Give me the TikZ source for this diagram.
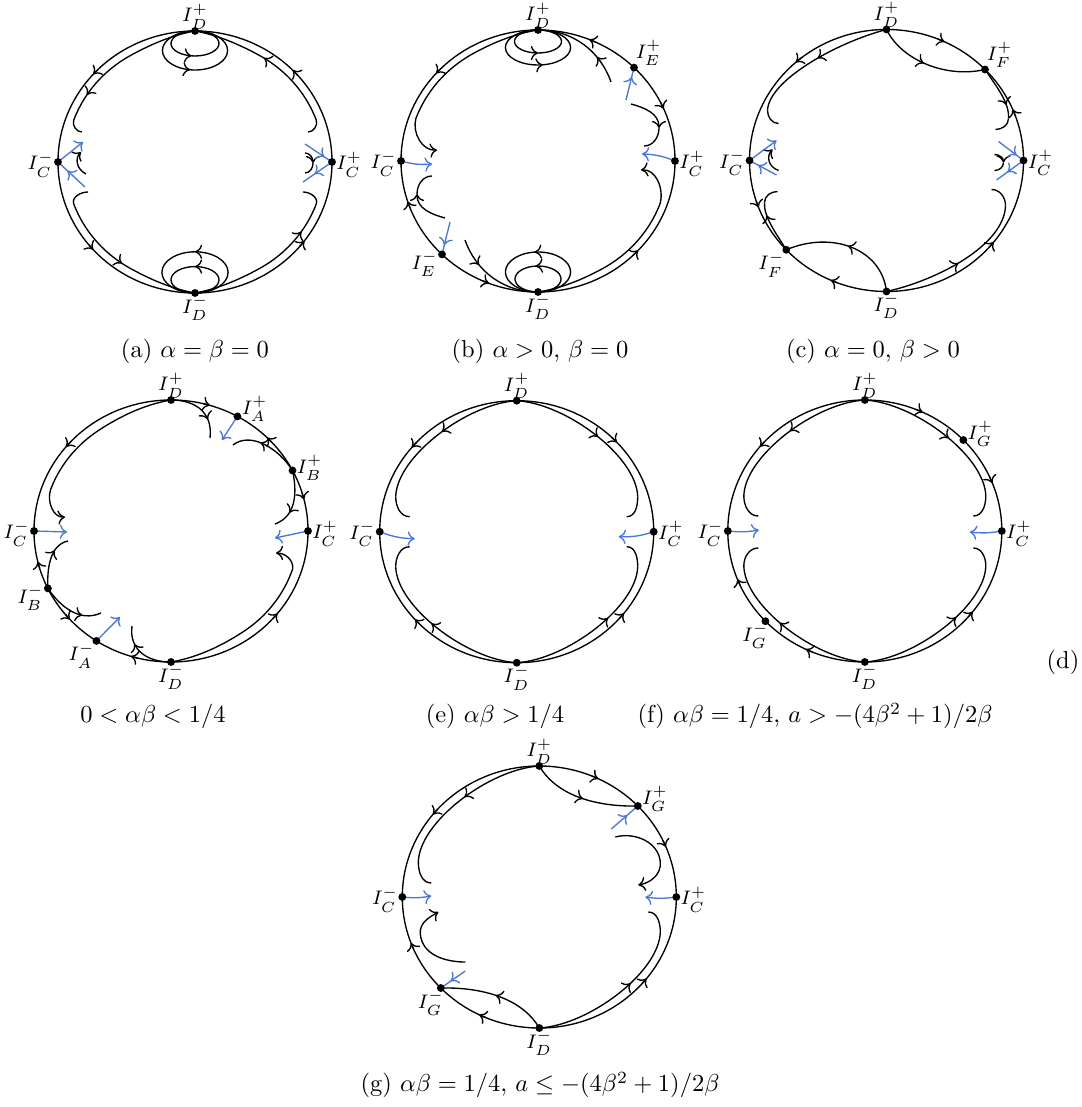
\documentclass[tikz,border=0pt]{standalone}
\usetikzlibrary{arrows.meta,decorations.markings}
\definecolor{sepblue}{RGB}{75,120,215}
\tikzset{
 ma/.style={postaction={decorate,decoration={markings,mark=at position #1 with {\arrow{>}}}}},
 mr/.style={postaction={decorate,decoration={markings,mark=at position #1 with {\arrow{<}}}}},
 bl/.style={color=sepblue},
 lab/.style={font=\footnotesize,inner sep=0.5pt},
 capt/.style={font=\normalsize,inner sep=0pt},
}
\newcommand\carr[2]{\draw[->] ({137*cos(#1)},{-131*sin(#1)}) -- ({137*cos((#1+#2)/2)},{-131*sin((#1+#2)/2)});}
\newcommand\ip[5]{plot[domain=#1:#2,samples=40] ({(137-gp(\x,#3,#4,#5))*cos(\x)},{-(131-gp(\x,#3,#4,#5))*sin(\x)})}
\newcommand\bnd{\draw (0,0) ellipse[x radius=55.9pt,y radius=53.45pt];}
\newcommand\dotp[1]{\fill (#1) circle[radius=1.6pt];}
\begin{document}
\begin{tikzpicture}[x=0.408pt,y=-0.408pt,line width=0.55pt,>={To[length=2.9pt,width=5.8pt]},
 declare function={gp(\pa,\pb,\pc,\pd)=\pd*sin(min(90,90*abs(\pa-\pb)/\pc));}]
\useasboundingbox (0,0) rectangle (1081,1107);

% ---------------- (a)
\begin{scope}[shift={(195,162)}]
\coordinate (aT) at (0,-131); \coordinate (aB) at (0,131);
\coordinate (aL) at (-137,0); \coordinate (aR) at (137,0);
\bnd
\carr{135}{141}\carr{41.5}{47.5}\carr{219}{225}\carr{320}{326}
\draw[ma=0.72] (0,-118.5) ellipse[x radius=9.8pt,y radius=5.1pt];
\draw[ma=0.72] (0,-111.5) ellipse[x radius=13.3pt,y radius=7.96pt];
\draw[ma=0.25] (0,117.8) ellipse[x radius=9.8pt,y radius=5.39pt];
\draw[ma=0.25] (0,110.4) ellipse[x radius=13.5pt,y radius=8.4pt];
\draw[ma=0.82] \ip{90}{160}{90}{30}{8} coordinate (aH1);
\draw (aH1) to[out=250,in=180] (-113,-30);
\draw[mr=0.52] \ip{90}{20}{90}{30}{8} coordinate (aH2);
\draw (aH2) to[out=290,in=0] (113,-30);
\draw[mr=0.55] \ip{270}{200}{270}{30}{8} coordinate (aH3);
\draw (aH3) to[out=110,in=180] (-107,30);
\draw[ma=0.8] \ip{270}{340}{270}{30}{8} coordinate (aH4);
\draw (aH4) to[out=70,in=0] (108,30);
\draw[->] (-109,12) .. controls (-119,7) and (-120,-4) .. (-114,-10);
\draw[->] (110,-9) to[out=0,in=90] (118,1);
\draw (118,1) to[out=270,in=0] (110,11);
\draw[bl,->] (aL) -- (-112,-20);
\draw[bl,mr=0.55] (aL) -- (-110,25);
\draw[bl,mr=0.5] (aR) -- (110,-18);
\draw[bl,ma=0.6] (aR) -- (108,20);
\dotp{aT}\dotp{aB}\dotp{aL}\dotp{aR}
\node[lab,above=0pt] (laT) at (aT) {$I_D^+$};
\node[lab,below=0pt] (laB) at (aB) {$I_D^-$};
\node[lab,left=1pt,yshift=-1pt] (laL) at (aL) {$I_C^-$};
\node[lab,right=1pt,yshift=-1pt] (laR) at (aR) {$I_C^+$};
\end{scope}

% ---------------- (b)
\begin{scope}[shift={(538,161)}]
\coordinate (bT) at (0,-131); \coordinate (bB) at (0,131);
\coordinate (bL) at (-137,0); \coordinate (bR) at (137,0);
\coordinate (bEp) at (96,-93.4); \coordinate (bEm) at (-96,93.4);
\bnd
\carr{135}{141}\carr{65}{71}\carr{26.5}{20.5}\carr{314}{320}\carr{201}{195}\carr{246}{252}
\draw[ma=0.75] (0,-119.5) ellipse[x radius=9.6pt,y radius=4.7pt];
\draw[ma=0.78] (0,-113.5) ellipse[x radius=13.3pt,y radius=7.14pt];
\draw[ma=0.27] (0,118) ellipse[x radius=9.4pt,y radius=5.3pt];
\draw[ma=0.27] (0,111) ellipse[x radius=13.3pt,y radius=8.16pt];
\draw[->] \ip{90}{160}{90}{30}{7} to[out=255,in=185] (-101,-11);
\draw[->] \ip{270}{340}{270}{30}{7} to[out=75,in=5] (103,9);
\draw[ma=0.3] (73,-79) .. controls (62,-110) and (35,-131) .. (bT);
\draw[ma=0.3] (-73,79) .. controls (-62,110) and (-35,131) .. (bB);
\draw[->] (93,-57) to[out=-15,in=90] (121,-33);
\draw (121,-33) to[out=270,in=0] (106,-15);
\draw[->] (-93,57) to[out=165,in=270] (-121,33);
\draw (-121,33) to[out=90,in=180] (-106,15);
\draw[bl,mr=0.5] (bEp) -- (88,-61);
\draw[bl,mr=0.5] (bEm) -- (-88,61);
\draw[bl,->] (bL) to[bend right=10] (-106,3);
\draw[bl,->] (bR) to[bend right=10] (104,-7);
\dotp{bT}\dotp{bB}\dotp{bL}\dotp{bR}\dotp{bEp}\dotp{bEm}
\node[lab,above=0pt] (lbT) at (bT) {$I_D^+$};
\node[lab,below=0pt] (lbB) at (bB) {$I_D^-$};
\node[lab,left=1pt,yshift=-1pt] (lbL) at (bL) {$I_C^-$};
\node[lab,right=1pt,yshift=-1pt] (lbR) at (bR) {$I_C^+$};
\node[lab,above right=0pt] (lbEp) at (bEp) {$I_E^+$};
\node[lab,anchor=north east,xshift=-1pt,yshift=2pt] (lbEm) at (bEm) {$I_E^-$};
\end{scope}

% ---------------- (c)
\begin{scope}[shift={(886.5,160.5)}]
\coordinate (cT) at (0,-131); \coordinate (cB) at (0,131);
\coordinate (cL) at (-137,0); \coordinate (cR) at (137,0);
\coordinate (cFp) at (98.5,-91.0); \coordinate (cFm) at (-100.2,89.3);
\bnd
\carr{68}{62}\carr{128.5}{134.5}\carr{20}{26}\carr{198}{204}\carr{249}{243}\carr{318.5}{324.5}
\draw[ma=0.45] (cT) .. controls (15,-100) and (60,-82) .. (cFp);
\draw[ma=0.5] (cB) .. controls (-5,88) and (-55,70) .. (cFm);
\draw[ma=0.5] (cT) .. controls (-50,-118) and (-118,-80) .. (-119,-50);
\draw (-119,-50) to[out=270,in=180] (-108,-37);
\draw[ma=0.5] (cB) .. controls (50,120) and (118,85) .. (119,45);
\draw (119,45) to[out=90,in=0] (105,29);
\draw[ma=0.75] (cFp) .. controls (110.5,-73) and (123,-58) .. (122,-42);
\draw (122,-42) to[out=270,in=0] (109,-31);
\draw[ma=0.75] (cFm) .. controls (-111,72) and (-123,56) .. (-122,42);
\draw (-122,42) to[out=90,in=180] (-109,31);
\draw[->] (-108,10) .. controls (-119,6) and (-120,-5) .. (-114,-11);
\draw[->] (108,-6) to[out=0,in=90] (117,2);
\draw (117,2) to[out=270,in=0] (108,10);
\draw[bl,->] (cL) -- (-110,-20);
\draw[bl,mr=0.55] (cL) -- (-110,14.5);
\draw[bl,mr=0.5] (cR) -- (112,-19);
\draw[bl,ma=0.6] (cR) -- (110,19.5);
\dotp{cT}\dotp{cB}\dotp{cL}\dotp{cR}\dotp{cFp}\dotp{cFm}
\node[lab,above=0pt] (lcT) at (cT) {$I_D^+$};
\node[lab,below=0pt] (lcB) at (cB) {$I_D^-$};
\node[lab,left=1pt,yshift=-1pt] (lcL) at (cL) {$I_C^-$};
\node[lab,right=1pt,yshift=-1pt] (lcR) at (cR) {$I_C^+$};
\node[lab,above right=0pt] (lcFp) at (cFp) {$I_F^+$};
\node[lab,below left=0pt] (lcFm) at (cFm) {$I_F^-$};
\end{scope}

% ---------------- (d)
\begin{scope}[shift={(171,531)}]
\coordinate (dT) at (0,-131); \coordinate (dB) at (0,131);
\coordinate (dL) at (-137,0); \coordinate (dR) at (137,0);
\coordinate (dAp) at (66.4,-114.6); \coordinate (dBp) at (121.5,-60.5);
\coordinate (dAm) at (-74.6,109.9); \coordinate (dBm) at (-123.1,57.4);
\bnd
\carr{76.5}{70.5}\carr{42.5}{48.5}\carr{17}{11}\carr{318}{324}\carr{256}{250}\carr{219.5}{225.5}\carr{196.5}{190.5}\carr{137}{143}
\draw[ma=0.7] (dT) .. controls (25,-131) and (42,-118) .. (39,-93);
\draw[bl,->] (dAp) -- (51,-91);
\draw[ma=0.6] (dBp) .. controls (108,-82) and (80,-100) .. (62,-86);
\draw[ma=0.7] (dBp) .. controls (126,-40) and (126,-15) .. (104,-7);
\draw[bl,->] (dR) -- (104,7);
\draw[->] \ip{270}{342}{270}{35}{9} to[out=85,in=0] (105,22);
\draw[ma=0.7] (dB) .. controls (-25,131) and (-42,118) .. (-39,95);
\draw[bl,->] (dAm) -- (-51,86);
\draw[ma=0.7] (dBm) .. controls (-112,74) and (-92,92) .. (-70,82);
\draw[ma=0.7] (dBm) .. controls (-124,40) and (-122,14) .. (-103,10);
\draw[bl,->] (dL) -- (-104,1);
\draw[->] \ip{90}{160}{90}{35}{9} to[out=250,in=185] (-106,-14);
\dotp{dT}\dotp{dB}\dotp{dL}\dotp{dR}\dotp{dAp}\dotp{dBp}\dotp{dAm}\dotp{dBm}
\node[lab,above=0pt] (ldT) at (dT) {$I_D^+$};
\node[lab,below=0pt] (ldB) at (dB) {$I_D^-$};
\node[lab,left=1pt,yshift=-1pt] (ldL) at (dL) {$I_C^-$};
\node[lab,right=1pt,yshift=-1pt] (ldR) at (dR) {$I_C^+$};
\node[lab,anchor=west,xshift=1pt,yshift=3pt] (ldAp) at (dAp) {$I_A^+$};
\node[lab,anchor=west,xshift=1pt,yshift=1pt] (ldBp) at (dBp) {$I_B^+$};
\node[lab,below left=0pt] (ldAm) at (dAm) {$I_A^-$};
\node[lab,anchor=north east,xshift=-1pt,yshift=2pt] (ldBm) at (dBm) {$I_B^-$};
\end{scope}

% ---------------- (e)
\begin{scope}[shift={(516.7,531.7)}]
\coordinate (eT) at (0,-131); \coordinate (eB) at (0,131);
\coordinate (eL) at (-137,0); \coordinate (eR) at (137,0);
\bnd
\carr{137}{143}\carr{46}{40}\carr{225}{219}\carr{318.5}{324.5}
\draw[ma=0.5] (eT) .. controls (-50,-128) and (-120,-75) .. (-121,-35);
\draw (-121,-35) to[out=270,in=180] (-107,-15);
\draw[ma=0.55] (eT) .. controls (50,-128) and (120,-75) .. (121,-35);
\draw (121,-35) to[out=270,in=0] (110,-15);
\draw[ma=0.58] (eB) .. controls (-50,128) and (-120,75) .. (-121,35);
\draw (-121,35) to[out=90,in=180] (-107,15);
\draw[ma=0.63] (eB) .. controls (50,128) and (120,75) .. (121,35);
\draw (121,35) to[out=90,in=0] (110,15);
\draw[bl,->] (eL) to[bend right=10] (-102,7);
\draw[bl,->] (eR) to[bend left=10] (102,5);
\dotp{eT}\dotp{eB}\dotp{eL}\dotp{eR}
\node[lab,above=0pt] (leT) at (eT) {$I_D^+$};
\node[lab,below=0pt] (leB) at (eB) {$I_D^-$};
\node[lab,left=1pt,yshift=-1pt] (leL) at (eL) {$I_C^-$};
\node[lab,right=1pt,yshift=-1pt] (leR) at (eR) {$I_C^+$};
\end{scope}

% ---------------- (f)
\begin{scope}[shift={(864.8,531)}]
\coordinate (fT) at (0,-131); \coordinate (fB) at (0,131);
\coordinate (fL) at (-137,0); \coordinate (fR) at (137,0);
\coordinate (fGp) at (98.5,-91.0); \coordinate (fGm) at (-99.4,90.2);
\bnd
\carr{68}{62}\carr{24.5}{18.5}\carr{137}{143}\carr{204.5}{198.5}\carr{247.5}{241.5}\carr{319}{325}
\draw[ma=0.5] (fT) .. controls (-50,-128) and (-120,-75) .. (-121,-35);
\draw (-121,-35) to[out=270,in=180] (-106.5,-15);
\draw[ma=0.57] (fT) .. controls (50,-128) and (120,-75) .. (121,-35);
\draw (121,-35) to[out=270,in=0] (108.5,-15);
\draw[ma=0.58] (fB) .. controls (-50,128) and (-120,75) .. (-121,35);
\draw (-121,35) to[out=90,in=180] (-106.5,17);
\draw[ma=0.63] (fB) .. controls (50,128) and (120,75) .. (121,35);
\draw (121,35) to[out=90,in=0] (108.5,17);
\draw[bl,->] (fL) to[bend right=8] (-106,-1);
\draw[bl,->] (fR) to[bend left=8] (105,1);
\dotp{fT}\dotp{fB}\dotp{fL}\dotp{fR}\dotp{fGp}\dotp{fGm}
\node[lab,above=0pt] (lfT) at (fT) {$I_D^+$};
\node[lab,below=0pt] (lfB) at (fB) {$I_D^-$};
\node[lab,left=1pt,yshift=-1pt] (lfL) at (fL) {$I_C^-$};
\node[lab,right=1pt,yshift=-1pt] (lfR) at (fR) {$I_C^+$};
\node[lab,anchor=west,xshift=1pt,yshift=2.5pt] (lfGp) at (fGp) {$I_G^+$};
\node[lab,below left=0pt,xshift=2pt] (lfGm) at (fGm) {$I_G^-$};
\end{scope}

% ---------------- (g)
\begin{scope}[shift={(539.3,897)}]
\coordinate (gT) at (0,-131); \coordinate (gB) at (0,131);
\coordinate (gL) at (-137,0); \coordinate (gR) at (137,0);
\coordinate (gGp) at (98.5,-91.0); \coordinate (gGm) at (-98.5,91.0);
\bnd
\carr{67.5}{61.5}\carr{25.5}{19.5}\carr{138}{144}\carr{203.5}{197.5}\carr{247}{241}\carr{318.5}{324.5}
\draw[ma=0.5] (gT) .. controls (15,-105) and (50,-90) .. (gGp);
\draw[ma=0.5] (gB) .. controls (-15,105) and (-50,90) .. (gGm);
\draw[ma=0.5] (gT) .. controls (-50,-128) and (-120,-75) .. (-121,-35);
\draw (-121,-35) to[out=270,in=180] (-108,-14);
\draw[ma=0.63] (gB) .. controls (50,128) and (120,75) .. (121,35);
\draw (121,35) to[out=90,in=0] (109,15);
\draw[->] (76,-60) to[out=15,in=95] (121,-35) to[out=275,in=10] (99,-12);
\draw[->] (-74,65) to[out=180,in=275] (-119,37) to[out=95,in=210] (-101,15);
\draw[bl,ma=0.6] (72,-68) -- (gGp);
\draw[bl,ma=0.6] (-74,74) -- (gGm);
\draw[bl,->] (gR) to[bend left=8] (106,0);
\draw[bl,->] (gL) to[bend right=8] (-108,-1);
\dotp{gT}\dotp{gB}\dotp{gL}\dotp{gR}\dotp{gGp}\dotp{gGm}
\node[lab,above=0pt] (lgT) at (gT) {$I_D^+$};
\node[lab,below=0pt] (lgB) at (gB) {$I_D^-$};
\node[lab,left=1pt,yshift=-1pt] (lgL) at (gL) {$I_C^-$};
\node[lab,right=1pt,yshift=-1pt] (lgR) at (gR) {$I_C^+$};
\node[lab,anchor=west,xshift=1pt,yshift=3pt] (lgGp) at (gGp) {$I_G^+$};
\node[lab,below left=0pt,xshift=2pt] (lgGm) at (gGm) {$I_G^-$};
\end{scope}

% ---------------- captions
\node[capt] (capa) at (195,351) {(a) $\alpha=\beta=0$};
\node[capt] (capb) at (540,351) {(b) $\alpha>0$, $\beta=0$};
\node[capt] (capc) at (873,351) {(c) $\alpha=0$, $\beta>0$};
\node[capt] (capd) at (153,716) {$0<\alpha\beta<1/4$};
\node[capt] (cape) at (495,716) {(e) $\alpha\beta>1/4$};
\node[capt] (capf) at (815,716) {(f) $\alpha\beta=1/4$, $a>-(4\beta^2+1)/2\beta$};
\node[capt] (capdd) at (1063,662) {(d)};
\node[capt] (capg) at (540,1085) {(g) $\alpha\beta=1/4$, $a\leq-(4\beta^2+1)/2\beta$};
\end{tikzpicture}
\end{document}
